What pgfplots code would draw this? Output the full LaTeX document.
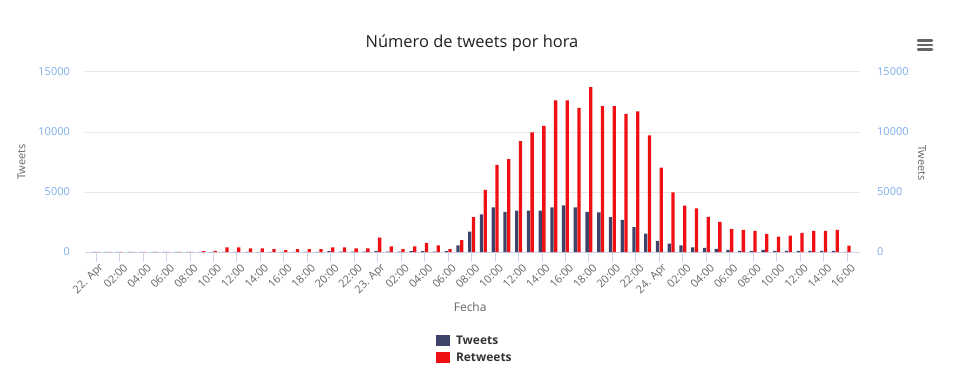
\documentclass[border=0pt]{standalone}
\usepackage{pgfplots}
\usepackage{pgfplotstable}
\pgfplotsset{compat=1.18}
\usepackage{fontspec}
\setmainfont{Open Sans}
\definecolor{tw}{RGB}{62,68,105}
\definecolor{rt}{RGB}{238,16,18}
\definecolor{lab}{RGB}{124,172,232}
\definecolor{gridc}{RGB}{230,230,230}
\definecolor{axc}{RGB}{204,214,235}
\definecolor{txt}{RGB}{102,102,102}
\definecolor{ttl}{RGB}{51,51,51}

\pgfplotstableread{
h tw rt
0 10 15
1 10 15
2 10 15
3 5 10
4 5 10
5 5 10
6 5 10
7 5 10
8 5 20
9 10 80
10 10 90
11 20 390
12 20 390
13 20 310
14 20 310
15 15 230
16 15 150
17 15 230
18 20 230
19 20 230
20 80 390
21 30 390
22 30 310
23 30 310
24 80 1200
25 30 470
26 30 230
27 80 470
28 80 760
29 40 555
30 80 250
31 555 1000
32 1690 2905
33 3130 5170
34 3715 7260
35 3350 7740
36 3440 9250
37 3440 9970
38 3440 10500
39 3715 12630
40 3880 12630
41 3715 12010
42 3350 13740
43 3300 12150
44 2900 12150
45 2670 11510
46 2067 11720
47 1536 9720
48 922 7040
49 698 4970
50 559 3855
51 391 3630
52 335 2930
53 251 2515
54 168 1900
55 84 1845
56 84 1760
57 168 1510
58 84 1285
59 84 1370
60 84 1590
61 84 1760
62 84 1760
63 84 1845
64 10 530
}\data

\begin{document}
\begin{tikzpicture}[x=1bp,y=1bp]
\path[use as bounding box] (0,0) rectangle (955,391);
\begin{axis}[
  at={(85bp,139bp)}, anchor=south west,
  scale only axis, width=775bp, height=180bp,
  xmin=-0.95, xmax=65.1, ymin=0, ymax=15000,
  axis x line*=bottom, axis y line*=left,
  y axis line style={draw=none},
  x axis line style={draw=axc, line width=1bp, -},
  ymajorgrids, grid style={draw=gridc, line width=1bp},
  ytick={0,5000,10000,15000},
  scaled y ticks=false,
  ytick style={draw=none},
  yticklabel style={font=\fontsize{11}{13}\selectfont, color=lab, anchor=east, inner sep=0pt, xshift=-5bp},
  xtick={0,2,...,64},
  xticklabels={22. Apr,02:00,04:00,06:00,08:00,10:00,12:00,14:00,16:00,18:00,20:00,22:00,23. Apr,02:00,04:00,06:00,08:00,10:00,12:00,14:00,16:00,18:00,20:00,22:00,24. Apr,02:00,04:00,06:00,08:00,10:00,12:00,14:00,16:00},
  tick align=outside, major tick length=10bp,
  xtick style={draw=axc, line width=1bp},
  xticklabel style={font=\fontsize{11}{13}\selectfont, color=txt, rotate=45, anchor=east, inner sep=0pt, xshift=1.5bp, yshift=-7bp},
  ybar=0.4bp, bar width=3.3bp,
  xlabel={Fecha},
  xlabel style={font=\fontsize{12}{14}\selectfont, color=txt, at={(axis description cs:0.497,-0.306)}, anchor=center},
  legend style={at={(0.503,-0.539)}, anchor=center, draw=none, fill=none, font=\bfseries\fontsize{12}{14}\selectfont, text=ttl, row sep=3bp, column sep=4bp},
  legend cell align=left,
  legend image code/.code={\fill[#1] (0bp,-5.5bp) rectangle (14bp,5.5bp);},
  /pgf/number format/1000 sep={},
  /pgf/number format/assume math mode=true,
]
\addplot[fill=tw, draw=none] table[x=h,y=tw]{\data};
\addplot[fill=rt, draw=none] table[x=h,y=rt]{\data};
\legend{Tweets,Retweets}
\end{axis}
\begin{axis}[
  at={(85bp,139bp)}, anchor=south west,
  scale only axis, width=775bp, height=180bp,
  xmin=-0.95, xmax=65.1, ymin=0, ymax=15000,
  axis x line=none, axis y line*=right,
  y axis line style={draw=none},
  ytick={0,5000,10000,15000},
  scaled y ticks=false,
  ytick style={draw=none},
  yticklabel style={font=\fontsize{11}{13}\selectfont, color=lab, anchor=west, inner sep=0pt, xshift=17bp},
  /pgf/number format/1000 sep={},
  /pgf/number format/assume math mode=true,
]
\end{axis}
\node[font=\fontsize{16.5}{19}\selectfont, color=ttl!60!black] at (472,348) {Número de tweets por hora};
\node[font=\fontsize{11}{13}\selectfont, color=txt, rotate=90] at (21.5,229) {Tweets};
\node[font=\fontsize{11}{13}\selectfont, color=txt, rotate=-90] at (922,228) {Tweets};
\draw[line width=2.5bp, color=txt, line cap=round] (918,350.5) -- (932,350.5) (918,346) -- (932,346) (918,341.5) -- (932,341.5);
\end{tikzpicture}
\end{document}
